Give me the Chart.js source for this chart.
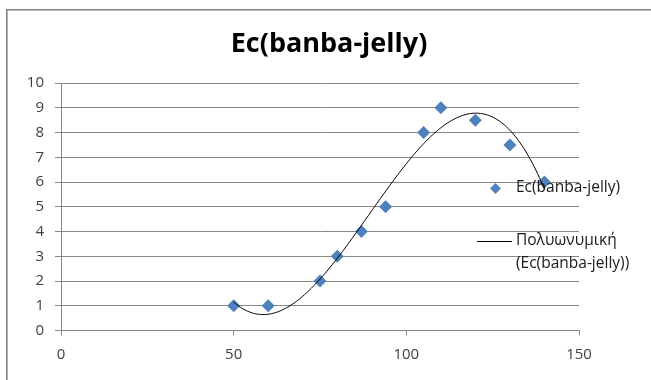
<!DOCTYPE html>
<html>
<head>
<meta charset="utf-8">
<script src="https://cdn.jsdelivr.net/npm/chart.js@4/dist/chart.umd.min.js"></script>
<style>
  html, body { margin: 0; padding: 0; background: #fff; }
  #wrap { position: relative; width: 651px; height: 380px; }
</style>
</head>
<body>
<div id="wrap"><canvas id="c" width="651" height="380"></canvas></div>
<script>
// Chart text
const chartTitle = 'Ec(banba-jelly)';
const seriesName = 'Ec(banba-jelly)';
const trendName = ['Πολυωνυμική', '(Ec(banba-jelly))'];

// Measurements
const xValues = [50, 60, 75, 80, 87, 94, 105, 110, 120, 130, 140];
const yValues = [1, 1, 2, 3, 4, 5, 8, 9, 8.5, 7.5, 6];

// Axis ticks
const xTicks = [0, 50, 100, 150];
const yTicks = [0, 1, 2, 3, 4, 5, 6, 7, 8, 9, 10];

const FONT = '"Open Sans", "Noto Sans", sans-serif';
const MARKER = '#4f81bd';
const AXIS_GREY = '#868686';

// Least-squares polynomial (order 3) trendline through the measurements
function polyFit(xs, ys, order) {
  const n = order + 1;
  const cx = xs.reduce((a, b) => a + b, 0) / xs.length;
  const A = Array.from({ length: n }, () => new Array(n + 1).fill(0));
  xs.forEach((xv, k) => {
    const t = xv - cx;
    for (let i = 0; i < n; i++) {
      for (let j = 0; j < n; j++) A[i][j] += Math.pow(t, i + j);
      A[i][n] += ys[k] * Math.pow(t, i);
    }
  });
  for (let c = 0; c < n; c++) {
    let p = c;
    for (let r = c + 1; r < n; r++) if (Math.abs(A[r][c]) > Math.abs(A[p][c])) p = r;
    [A[c], A[p]] = [A[p], A[c]];
    for (let r = 0; r < n; r++) {
      if (r === c) continue;
      const f = A[r][c] / A[c][c];
      for (let k = c; k <= n; k++) A[r][k] -= f * A[c][k];
    }
  }
  const coef = A.map((row, i) => row[n] / row[i]);
  return x => coef.reduce((s, a, i) => s + a * Math.pow(x - cx, i), 0);
}

const trendFn = polyFit(xValues, yValues, 3);
const xMin = Math.min(...xValues), xMax = Math.max(...xValues);
const trendPoints = [];
for (let x = xMin; x <= xMax + 1e-9; x += 0.5) trendPoints.push({ x: x, y: trendFn(x) });

const scatterPoints = xValues.map((x, i) => ({ x: x, y: yValues[i] }));

// Outer chart frame
const framePlugin = {
  id: 'frame',
  beforeDraw(chart) {
    const ctx = chart.ctx;
    ctx.save();
    ctx.strokeStyle = '#7f7f7f';
    ctx.lineWidth = 1.6;
    ctx.beginPath();
    ctx.moveTo(6.8, chart.height + 2);
    ctx.lineTo(6.8, 9.8);
    ctx.lineTo(chart.width + 2, 9.8);
    ctx.stroke();
    ctx.restore();
  }
};

// Title above the plot
const titlePlugin = {
  id: 'topTitle',
  afterDraw(chart) {
    const ctx = chart.ctx;
    ctx.save();
    ctx.fillStyle = '#000';
    ctx.font = 'bold 27px ' + FONT;
    ctx.textAlign = 'center';
    ctx.textBaseline = 'middle';
    ctx.fillText(chartTitle, 329, 44);
    ctx.restore();
  }
};

// Legend drawn over the right side of the plot
const legendPlugin = {
  id: 'sideLegend',
  afterDraw(chart) {
    const ctx = chart.ctx;
    ctx.save();
    ctx.font = '15.5px ' + FONT;
    ctx.textAlign = 'left';
    ctx.textBaseline = 'middle';
    // marker entry
    const r = 5.5, mx = 495.5, my = 188.5;
    ctx.fillStyle = MARKER;
    ctx.beginPath();
    ctx.moveTo(mx - r, my); ctx.lineTo(mx, my - r); ctx.lineTo(mx + r, my); ctx.lineTo(mx, my + r);
    ctx.closePath(); ctx.fill();
    ctx.fillStyle = '#1a1a1a';
    ctx.fillText(seriesName, 516, 188);
    // trendline entry
    ctx.strokeStyle = '#000';
    ctx.lineWidth = 1;
    ctx.beginPath();
    ctx.moveTo(477, 241.5); ctx.lineTo(512, 241.5);
    ctx.stroke();
    ctx.fillText(trendName[0], 516, 241);
    ctx.fillText(trendName[1], 516, 263.5);
    ctx.restore();
  }
};

new Chart(document.getElementById('c'), {
  type: 'scatter',
  data: {
    datasets: [
      {
        label: trendName.join(' '),
        data: trendPoints,
        showLine: true,
        borderColor: '#000',
        borderWidth: 1,
        pointRadius: 0,
        pointHoverRadius: 0,
        fill: false,
        tension: 0,
        order: 0
      },
      {
        label: seriesName,
        data: scatterPoints,
        pointStyle: 'rectRot',
        pointRadius: 6.5,
        pointHoverRadius: 6.5,
        backgroundColor: MARKER,
        borderColor: MARKER,
        borderWidth: 0,
        order: 1
      }
    ]
  },
  options: {
    responsive: false,
    animation: false,
    events: [],
    layout: { padding: { left: 0, top: 83, right: 72, bottom: 0 } },
    plugins: {
      legend: { display: false },
      title: { display: false },
      tooltip: { enabled: false }
    },
    scales: {
      x: {
        type: 'linear',
        min: xTicks[0],
        max: xTicks[xTicks.length - 1],
        afterBuildTicks(s) { s.ticks = xTicks.map(v => ({ value: v })); },
        afterFit(s) { s.height = 49.5; },
        grid: { drawOnChartArea: false, drawTicks: true, tickLength: 5, color: AXIS_GREY },
        border: { color: AXIS_GREY, width: 1 },
        ticks: { padding: 10, color: '#404040', font: { family: FONT, size: 15 }, maxRotation: 0 }
      },
      y: {
        type: 'linear',
        min: yTicks[0],
        max: yTicks[yTicks.length - 1],
        afterBuildTicks(s) { s.ticks = yTicks.map(v => ({ value: v })); },
        afterFit(s) { s.width = 61; },
        grid: { drawOnChartArea: true, drawTicks: true, tickLength: 6, color: AXIS_GREY },
        border: { color: AXIS_GREY, width: 1 },
        ticks: { padding: 11, color: '#404040', font: { family: FONT, size: 15 } }
      }
    }
  },
  plugins: [framePlugin, titlePlugin, legendPlugin]
});
</script>
</body>
</html>
